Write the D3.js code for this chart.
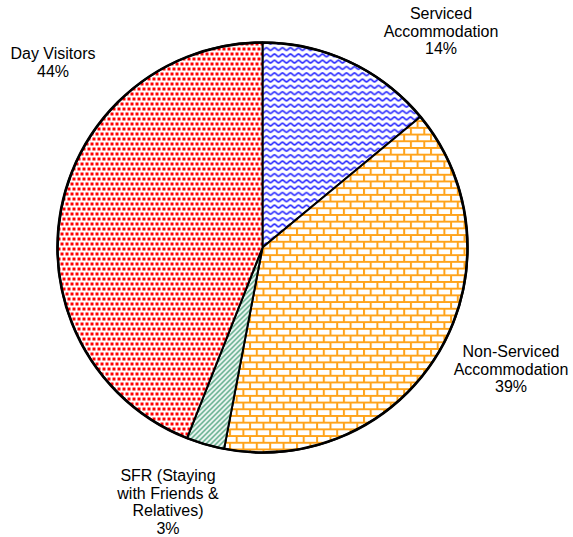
<!DOCTYPE html>
<html>
<head>
<meta charset="utf-8">
<script src="https://cdn.jsdelivr.net/npm/d3@7"></script>
<style>
  html, body { margin: 0; padding: 0; background: #fff; }
  svg { display: block; font-family: "Liberation Sans", Arial, sans-serif; }
</style>
</head>
<body>
<div id="chart"></div>
<script>
// slices, clockwise from 12 o'clock
const categories = ['Serviced Accommodation', 'Non-Serviced Accommodation', 'SFR (Staying with Friends & Relatives)', 'Day Visitors'];
const shares = [14, 39, 3, 44];
const labelLines = [
    ['Serviced', 'Accommodation', '14%'],
    ['Non-Serviced', 'Accommodation', '39%'],
    ['SFR (Staying', 'with Friends &', 'Relatives)', '3%'],
    ['Day Visitors', '44%']
];
const patternIds = ['wave', 'brick', 'diag', 'dots'];

const width = 573;
const height = 537;
const centerX = 262.5;
const centerY = 247.5;
const radius = 205;

// label anchors: [x, baseline of first line]
const labelAnchors = [[441, 19], [511, 357], [168, 481], [53, 59]];
const lineHeight = 17.5;

const svg = d3.select('#chart').append('svg')
    .attr('width', width)
    .attr('height', height);

const defs = svg.append('defs');

// blue waves
const wave = defs.append('pattern')
    .attr('id', 'wave')
    .attr('patternUnits', 'userSpaceOnUse')
    .attr('width', 8)
    .attr('height', 6.3);
wave.append('rect').attr('width', 8).attr('height', 6.3).attr('fill', '#fff');
wave.append('path')
    .attr('d', 'M0,4.5 C1.3,4.5 2.7,1.8 4,1.8 C5.3,1.8 6.7,4.5 8,4.5')
    .attr('fill', 'none')
    .attr('stroke', '#2f2fff')
    .attr('stroke-width', 1.6);

// orange bricks
const brickW = 13.4;
const brickH = 6.7;
const brick = defs.append('pattern')
    .attr('id', 'brick')
    .attr('patternUnits', 'userSpaceOnUse')
    .attr('width', brickW)
    .attr('height', brickH * 2);
brick.append('rect').attr('width', brickW).attr('height', brickH * 2).attr('fill', '#fff');
brick.append('path')
    .attr('d', `M0,1 H${brickW} M0,${brickH + 1} H${brickW} M1,1 V${brickH + 1} M${brickW / 2 + 1},${brickH + 1} V${brickH * 2 + 1}`)
    .attr('fill', 'none')
    .attr('stroke', '#ffa31a')
    .attr('stroke-width', 2);

// green diagonal hatch
const diag = defs.append('pattern')
    .attr('id', 'diag')
    .attr('patternUnits', 'userSpaceOnUse')
    .attr('width', 5)
    .attr('height', 5);
diag.append('rect').attr('width', 5).attr('height', 5).attr('fill', '#fff');
diag.append('path')
    .attr('d', 'M-1,6 L6,-1 M-1,1 L1,-1 M4,6 L6,4')
    .attr('stroke', '#3a9a70')
    .attr('stroke-width', 1.4);

// red dots, staggered
const dots = defs.append('pattern')
    .attr('id', 'dots')
    .attr('patternUnits', 'userSpaceOnUse')
    .attr('width', 5)
    .attr('height', 10);
dots.append('rect').attr('width', 5).attr('height', 10).attr('fill', '#fff');
[[0, 0], [3, 5], [-2, 5]].forEach(([x, y]) => {
    dots.append('rect')
        .attr('x', x)
        .attr('y', y)
        .attr('width', 3)
        .attr('height', 3)
        .attr('fill', '#ff0000')
        .attr('shape-rendering', 'crispEdges');
});

const pie = d3.pie()
    .sort(null)
    .value((datum) => datum.share);

const arc = d3.arc()
    .innerRadius(0)
    .outerRadius(radius);

const pieData = pie(categories.map((category, index) => ({ category, share: shares[index], index })));

const chartGroup = svg.append('g')
    .attr('transform', `translate(${centerX},${centerY})`);

chartGroup.selectAll('.slice')
    .data(pieData)
    .enter()
    .append('path')
    .attr('class', 'slice')
    .attr('d', arc)
    .attr('fill', (datum) => `url(#${patternIds[datum.data.index]})`)
    .attr('stroke', '#000')
    .attr('stroke-width', 2)
    .attr('stroke-linejoin', 'round');

chartGroup.append('circle')
    .attr('r', radius)
    .attr('fill', 'none')
    .attr('stroke', '#000')
    .attr('stroke-width', 2.6);

const labels = svg.selectAll('.slice-label')
    .data(labelLines)
    .enter()
    .append('text')
    .attr('class', 'slice-label')
    .attr('text-anchor', 'middle')
    .attr('font-size', 16)
    .attr('fill', '#000');

labels.each(function addLines(lines, index) {
    const [x, y] = labelAnchors[index];
    d3.select(this).selectAll('tspan')
        .data(lines)
        .enter()
        .append('tspan')
        .attr('x', x)
        .attr('y', (line, lineIndex) => y + lineIndex * lineHeight)
        .text((line) => line);
});
</script>
</body>
</html>
